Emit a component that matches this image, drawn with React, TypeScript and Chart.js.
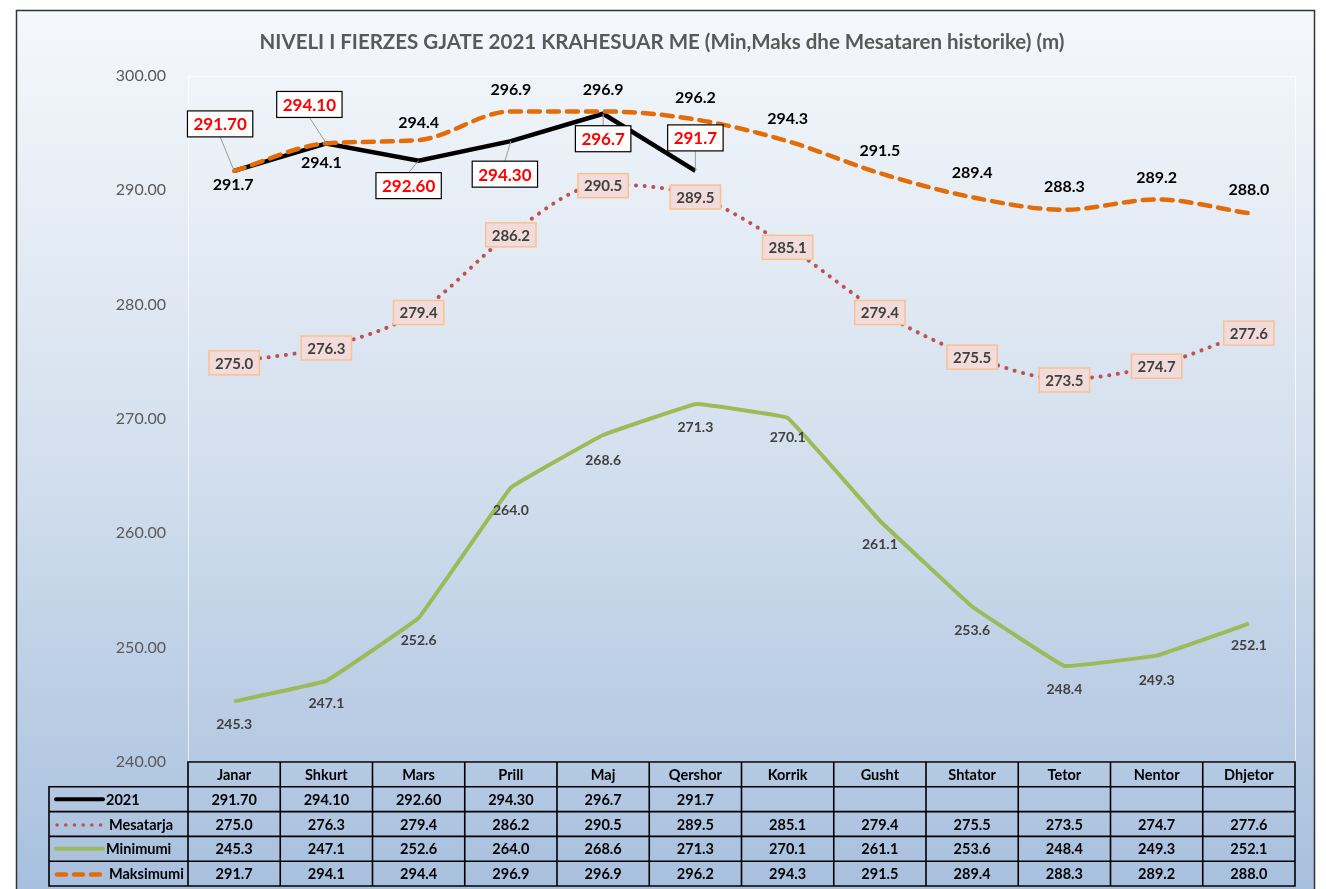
import { useEffect, useRef } from "react";
import { Chart, registerables } from "chart.js";

Chart.register(...registerables);

const TITLE = "NIVELI I FIERZES GJATE 2021 KRAHESUAR ME (Min,Maks dhe Mesataren historike) (m)";
const months = ["Janar", "Shkurt", "Mars", "Prill", "Maj", "Qershor", "Korrik", "Gusht", "Shtator", "Tetor", "Nentor", "Dhjetor"];
const values2021 = [291.7, 294.1, 292.6, 294.3, 296.7, 291.7, null, null, null, null, null, null];
const text2021 = ["291.70", "294.10", "292.60", "294.30", "296.7", "291.7", "", "", "", "", "", ""];
const mesatarja = [275.0, 276.3, 279.4, 286.2, 290.5, 289.5, 285.1, 279.4, 275.5, 273.5, 274.7, 277.6];
const minimumi = [245.3, 247.1, 252.6, 264.0, 268.6, 271.3, 270.1, 261.1, 253.6, 248.4, 249.3, 252.1];
const maksimumi = [291.7, 294.1, 294.4, 296.9, 296.9, 296.2, 294.3, 291.5, 289.4, 288.3, 289.2, 288.0];
const seriesNames = ["2021", "Mesatarja", "Minimumi", "Maksimumi"];
const yMin = 240;
const yMax = 300;
const yStep = 10;

// label placement offsets (styling only)
const off2021 = [[-14, -47], [-17, -39], [-10, 25], [-6, 33], [0, 25], [0, -33]];
const offMaks = [[-1, 14], [-5, 19], [0, -17], [0, -22], [0, -22], [0, -22], [0, -22], [0, -22], [0, -24], [0, -23], [0, -22], [0, -23]];
const offMin = [[0, 23], [0, 23], [0, 23], [0, 23], [0, 25], [0, 23], [0, 20], [0, 24], [0, 24], [0, 24], [0, 25], [0, 22]];

const FONT = "Lato, 'Open Sans', sans-serif";
const C_BLACK = "#000000";
const C_RED = "#C0504D";
const C_GREEN = "#9BBB59";
const C_ORANGE = "#E36C09";

function fmt1(v: number) {
  return v.toFixed(1);
}

const chartPlugin = {
  id: "custom",
  beforeDraw(chart: any) {
    const ctx = chart.ctx;
    ctx.save();
    ctx.fillStyle = "#ffffff";
    ctx.fillRect(0, 0, chart.width, chart.height);
    const g = ctx.createLinearGradient(0, 10, 0, 889);
    g.addColorStop(0, "#F5F8FC");
    g.addColorStop(0.5, "#D4E0EE");
    g.addColorStop(1, "#A8C0DE");
    ctx.fillStyle = g;
    ctx.fillRect(16, 10, 1299, 890);
    ctx.strokeStyle = "#333333";
    ctx.lineWidth = 1.5;
    ctx.strokeRect(16.5, 10.5, 1298, 900);
    ctx.fillStyle = "#595959";
    ctx.font = `bold 20.5px ${FONT}`;
    ctx.textAlign = "center";
    ctx.textBaseline = "middle";
    ctx.fillText(TITLE, 662, 42);
    const a = chart.chartArea;
    ctx.strokeStyle = "rgba(255,255,255,0.7)";
    ctx.lineWidth = 1;
    ctx.strokeRect(a.left + 0.5, a.top + 0.5, a.right - a.left, a.bottom - a.top);
    ctx.restore();
  },
  afterDatasetsDraw(chart: any) {
    const ctx = chart.ctx;
    ctx.save();
    ctx.textAlign = "center";
    ctx.textBaseline = "middle";
    // Mesatarja boxes
    const mMes = chart.getDatasetMeta(1);
    ctx.font = `bold 15px ${FONT}`;
    mMes.data.forEach((pt: any, i: number) => {
      const t = fmt1(mesatarja[i]);
      const w = ctx.measureText(t).width + 12;
      const h = 24;
      const x = pt.x, y = pt.y + 1;
      ctx.fillStyle = "#F2DCDB";
      ctx.fillRect(x - w / 2, y - h / 2, w, h);
      ctx.strokeStyle = "#FAC090";
      ctx.lineWidth = 1.5;
      ctx.strokeRect(x - w / 2, y - h / 2, w, h);
      ctx.fillStyle = "#404040";
      ctx.fillText(t, x, y + 1);
    });
    // Minimumi labels
    const mMin = chart.getDatasetMeta(2);
    ctx.font = `bold 14px ${FONT}`;
    ctx.fillStyle = "#404040";
    mMin.data.forEach((pt: any, i: number) => {
      ctx.fillText(fmt1(minimumi[i]), pt.x + offMin[i][0], pt.y + offMin[i][1]);
    });
    // Maksimumi labels
    const mMax = chart.getDatasetMeta(3);
    ctx.font = `bold 16px ${FONT}`;
    ctx.fillStyle = "#000000";
    mMax.data.forEach((pt: any, i: number) => {
      ctx.fillText(fmt1(maksimumi[i]), pt.x + offMaks[i][0], pt.y + offMaks[i][1]);
    });
    // 2021 callouts
    const m21 = chart.getDatasetMeta(0);
    ctx.font = `bold 17px ${FONT}`;
    m21.data.forEach((pt: any, i: number) => {
      if (values2021[i] == null || pt.skip) return;
      const t = text2021[i];
      const w = ctx.measureText(t).width + 12;
      const h = 26;
      const cx = pt.x + off2021[i][0];
      const cy = pt.y + off2021[i][1];
      const edgeY = cy < pt.y ? cy + h / 2 : cy - h / 2;
      if (Math.abs(edgeY - pt.y) > 4) {
        ctx.strokeStyle = "#9a9a9a";
        ctx.lineWidth = 1;
        ctx.beginPath();
        ctx.moveTo(pt.x, pt.y);
        ctx.lineTo(cx, edgeY);
        ctx.stroke();
      }
      ctx.fillStyle = "#ffffff";
      ctx.fillRect(cx - w / 2, cy - h / 2, w, h);
      ctx.strokeStyle = "#000000";
      ctx.lineWidth = 1.2;
      ctx.strokeRect(cx - w / 2, cy - h / 2, w, h);
      ctx.fillStyle = "#FF0000";
      ctx.fillText(t, cx, cy + 1);
    });
    ctx.restore();
  },
  afterDraw(chart: any) {
    const ctx = chart.ctx;
    const xs = chart.scales.x;
    const a = chart.chartArea;
    const n = months.length;
    const colW = (a.right - a.left) / n;
    const top = a.bottom;
    const rowH = 24.8;
    const legLeft = 49;
    ctx.save();
    ctx.strokeStyle = "#000000";
    ctx.lineWidth = 1.6;
    // header
    ctx.font = `bold 14.5px ${FONT}`;
    ctx.textAlign = "center";
    ctx.textBaseline = "middle";
    ctx.fillStyle = "#000000";
    months.forEach((m, i) => {
      const cx = xs.getPixelForValue(i);
      ctx.fillText(m, cx, top + rowH / 2 + 1);
    });
    const rows = [
      text2021,
      mesatarja.map(fmt1),
      minimumi.map(fmt1),
      maksimumi.map(fmt1),
    ];
    rows.forEach((r, ri) => {
      const y = top + rowH * (ri + 1) + rowH / 2 + 1;
      r.forEach((t, i) => {
        if (t) ctx.fillText(t, xs.getPixelForValue(i), y);
      });
    });
    // grid lines
    ctx.beginPath();
    ctx.rect(a.left, top, a.right - a.left, rowH * 5);
    ctx.rect(legLeft, top + rowH, a.left - legLeft, rowH * 4);
    for (let r = 1; r < 5; r++) {
      ctx.moveTo(legLeft, top + rowH * r);
      ctx.lineTo(a.right, top + rowH * r);
    }
    for (let c = 1; c < n; c++) {
      const x = a.left + colW * c;
      ctx.moveTo(x, top);
      ctx.lineTo(x, top + rowH * 5);
    }
    ctx.stroke();
    // legend
    ctx.textAlign = "left";
    ctx.font = `bold 14.5px ${FONT}`;
    seriesNames.forEach((name, ri) => {
      const y = top + rowH * (ri + 1) + rowH / 2;
      ctx.save();
      ctx.beginPath();
      if (ri === 0) {
        ctx.strokeStyle = C_BLACK; ctx.lineWidth = 4; ctx.lineCap = "round";
        ctx.moveTo(56, y); ctx.lineTo(103, y);
      } else if (ri === 1) {
        ctx.strokeStyle = C_RED; ctx.lineWidth = 3.5; ctx.lineCap = "round"; ctx.setLineDash([0.1, 8.6]);
        ctx.moveTo(57, y + 1); ctx.lineTo(102, y + 1);
      } else if (ri === 2) {
        ctx.strokeStyle = C_GREEN; ctx.lineWidth = 4; ctx.lineCap = "round";
        ctx.moveTo(56, y); ctx.lineTo(103, y);
      } else {
        ctx.strokeStyle = C_ORANGE; ctx.lineWidth = 4.5; ctx.lineCap = "round"; ctx.setLineDash([9, 8]);
        ctx.moveTo(57, y + 1); ctx.lineTo(102, y + 1);
      }
      ctx.stroke();
      ctx.restore();
      ctx.fillStyle = "#000000";
      ctx.fillText(name, ri === 0 || ri === 2 ? 106 : 109, y + 1);
    });
    ctx.restore();
  },
};

export default function App() {
  const ref = useRef<HTMLCanvasElement | null>(null);
  useEffect(() => {
    document.body.style.margin = "0";
    const canvas = ref.current!;
    const chart = new Chart(canvas, {
      type: "line",
      data: {
        labels: months,
        datasets: [
          {
            label: seriesNames[0],
            data: values2021,
            borderColor: C_BLACK,
            borderWidth: 4.5,
            pointRadius: 0,
            tension: 0,
            spanGaps: false,
            order: 1,
          },
          {
            label: seriesNames[1],
            data: mesatarja,
            borderColor: C_RED,
            borderWidth: 4,
            borderDash: [0.1, 8.6],
            borderCapStyle: "round",
            pointRadius: 0,
            cubicInterpolationMode: "monotone",
            order: 3,
          },
          {
            label: seriesNames[2],
            data: minimumi,
            borderColor: C_GREEN,
            borderWidth: 4,
            pointRadius: 0,
            tension: 0.05,
            order: 2,
          },
          {
            label: seriesNames[3],
            data: maksimumi,
            borderColor: C_ORANGE,
            borderWidth: 4.5,
            borderDash: [11, 8],
            borderCapStyle: "round",
            pointRadius: 0,
            cubicInterpolationMode: "monotone",
            order: 0,
          },
        ],
      } as any,
      options: {
        responsive: false,
        animation: false,
        layout: { padding: { left: 0, right: 31, top: 76, bottom: 127 } },
        plugins: { legend: { display: false }, tooltip: { enabled: false }, title: { display: false } },
        scales: {
          x: { display: false, offset: true },
          y: {
            min: yMin,
            max: yMax,
            afterFit: (s: any) => { s.width = 188; },
            grid: { display: false },
            border: { display: false },
            ticks: {
              stepSize: yStep,
              padding: 14,
              color: "#595959",
              font: { family: FONT, size: 16 },
              callback: (v: any) => Number(v).toFixed(2),
            },
          },
        },
      } as any,
      plugins: [chartPlugin],
    });
    return () => chart.destroy();
  }, []);
  return (
    <div style={{ width: 1326, height: 889 }}>
      <canvas ref={ref} width={1326} height={889} style={{ display: "block" }} />
    </div>
  );
}
